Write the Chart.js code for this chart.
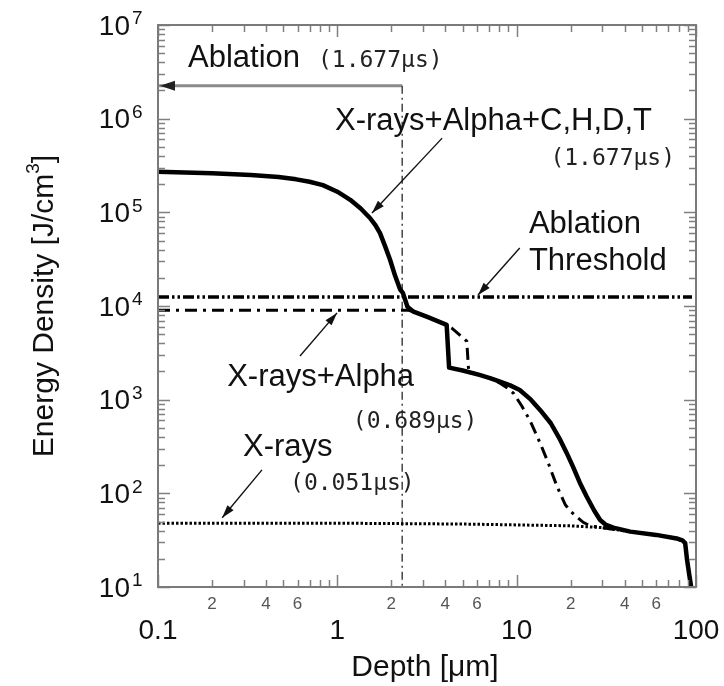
<!DOCTYPE html>
<html>
<head>
<meta charset="utf-8">
<script src="https://cdn.jsdelivr.net/npm/chart.js@4.4.1/dist/chart.umd.min.js"></script>
<style>
  html, body { margin: 0; padding: 0; background: #fff; }
  #wrap { width: 724px; height: 686px; }
</style>
</head>
<body>
<div id="wrap"><canvas id="depthChart" width="724" height="686"></canvas></div>
<script>
// Energy density vs depth
const totalDepth  = [0.1, 0.2, 0.33, 0.47, 0.59, 0.7, 0.83, 1.0, 1.18, 1.35, 1.52, 1.63, 1.73, 1.85, 1.97, 2.1, 2.24, 2.32, 2.46, 2.66, 3.2, 4.07, 4.2, 5.0, 6.2, 7.1, 8.07, 9.2, 10.4, 12.0, 13.5, 15.5, 17.5, 19.0, 20.6, 22.5, 24.6, 27.0, 29.2, 31.5, 34.6, 43, 60, 78, 84, 87, 89, 92, 94];
const totalEnergy = [2.72e5, 2.62e5, 2.5e5, 2.38e5, 2.25e5, 2.12e5, 1.95e5, 1.66e5, 1.36e5, 1.1e5, 8.7e4, 7.3e4, 6.0e4, 4.3e4, 3.1e4, 2.1e4, 1.5e4, 1.38e4, 9.8e3, 8.7e3, 7.6e3, 6.3e3, 2.2e3, 2.05e3, 1.84e3, 1.7e3, 1.56e3, 1.42e3, 1.27e3, 1.0e3, 777, 560, 372, 270, 193, 130, 92, 66, 52, 46, 43, 39, 36, 33, 31.5, 29.5, 20, 13, 10];

const alphaDepth  = [0.1, 2.5, 2.66, 3.2, 4.07, 4.35, 5.27, 5.4, 6.2, 7.1, 8.07, 8.9, 9.6, 10.7, 11.9, 13.5, 15, 16.8, 18.7, 20.2, 21.9, 23.5, 25.7, 30, 43, 60, 78, 84, 87, 89, 92, 94];
const alphaEnergy = [9.0e3, 9.0e3, 8.7e3, 7.6e3, 6.3e3, 5.8e3, 4.2e3, 2.0e3, 1.84e3, 1.7e3, 1.5e3, 1.33e3, 1.17e3, 850, 592, 346, 211, 118, 75, 63, 55, 49, 45, 43, 39, 36, 33, 31.5, 29.5, 20, 13, 10];

const xrayDepth  = [0.1, 1, 5, 10, 20, 30, 43, 60, 78, 87];
const xrayEnergy = [48, 48, 47, 46, 45, 43, 39, 36, 33, 29.5];

const thresholdDepth  = [0.1, 95];
const thresholdEnergy = [1.25e4, 1.25e4];

// ablation front at 1.677 us
const ablationDepth  = [2.3, 2.3];
const ablationEnergy = [2.25e6, 10];
const ablationArrowDepth = [2.3, 0.1];
const ablationArrowEnergy = [2.25e6, 2.25e6];

const xMajor = [0.1, 1, 10, 100];
const xMajorLabels = ['0.1', '1', '10', '100'];
const xMinorLabeled = [2, 4, 6];
const yPowers = [1, 2, 3, 4, 5, 6, 7];

// labels and arrows, placed in data units
const notes = [
  { text: 'Ablation', x: 0.147, y: 3.56e6, small: false },
  { text: '(1.677\u03bcs)', x: 0.78, y: 3.56e6, small: true },
  { text: 'X-rays+Alpha+C,H,D,T', x: 0.97, y: 7.57e5, small: false },
  { text: '(1.677\u03bcs)', x: 76.4, y: 3.2e5, small: true, right: true },
  { text: 'Ablation', x: 11.7, y: 6.0e4, small: false },
  { text: 'Threshold', x: 11.7, y: 2.43e4, small: false },
  { text: 'X-rays+Alpha', x: 0.243, y: 1.4e3, small: false },
  { text: '(0.689\u03bcs)', x: 1.22, y: 500, small: true },
  { text: 'X-rays', x: 0.298, y: 251, small: false },
  { text: '(0.051\u03bcs)', x: 0.545, y: 109, small: true }
];
const pointers = [
  { from: [3.84, 6.2e5], to: [1.56, 9.86e4] },
  { from: [10.4, 4.17e4], to: [6.09, 1.31e4] },
  { from: [0.619, 2.93e3], to: [0.996, 8.44e3] },
  { from: [0.38, 178], to: [0.228, 54.8] }
];

const SANS = "'Liberation Sans', Arial, sans-serif";

function toPoints(xs, ys) {
  return xs.map((v, i) => ({ x: v, y: ys[i] }));
}

function arrowHead(ctx, x1, y1, x2, y2, len, half) {
  const ang = Math.atan2(y2 - y1, x2 - x1);
  ctx.beginPath();
  ctx.moveTo(x2, y2);
  ctx.lineTo(x2 - len * Math.cos(ang) + half * Math.sin(ang), y2 - len * Math.sin(ang) - half * Math.cos(ang));
  ctx.lineTo(x2 - len * Math.cos(ang) - half * Math.sin(ang), y2 - len * Math.sin(ang) + half * Math.cos(ang));
  ctx.closePath();
  ctx.fill();
}

const decorations = {
  id: 'decorations',
  afterDatasetsDraw(chart) {
    const { ctx, chartArea: a, scales: { x, y } } = chart;
    ctx.save();

    // inward ticks on all four sides
    ctx.strokeStyle = '#808080';
    ctx.lineWidth = 1.5;
    ctx.beginPath();
    for (let d = -1; d <= 2; d++) {
      for (let m = 1; m <= 9; m++) {
        const v = m * Math.pow(10, d);
        if (v > 100.001) break;
        const px = Math.round(x.getPixelForValue(v)) + 0.5;
        const len = m === 1 ? 12 : 7;
        ctx.moveTo(px, a.bottom); ctx.lineTo(px, a.bottom - len);
        ctx.moveTo(px, a.top); ctx.lineTo(px, a.top + len);
      }
    }
    for (let d = 1; d <= 7; d++) {
      for (let m = 1; m <= 9; m++) {
        const v = m * Math.pow(10, d);
        if (v > 1.0001e7) break;
        const py = Math.round(y.getPixelForValue(v)) + 0.5;
        const len = m === 1 ? 12 : 7;
        ctx.moveTo(a.left, py); ctx.lineTo(a.left + len, py);
        ctx.moveTo(a.right, py); ctx.lineTo(a.right - len, py);
      }
    }
    ctx.stroke();

    // frame
    ctx.strokeStyle = '#7a7a7a';
    ctx.lineWidth = 2;
    ctx.strokeRect(a.left, a.top, a.right - a.left, a.bottom - a.top);

    // x tick labels
    ctx.fillStyle = '#111';
    ctx.textAlign = 'center';
    ctx.textBaseline = 'middle';
    ctx.font = '28px ' + SANS;
    xMajor.forEach((v, i) => {
      ctx.fillText(xMajorLabels[i], x.getPixelForValue(v), a.bottom + 44);
    });
    ctx.fillStyle = '#555';
    ctx.font = '17px ' + SANS;
    xMajor.slice(0, 3).forEach(base => {
      xMinorLabeled.forEach(m => {
        ctx.fillText(String(m), x.getPixelForValue(base * m), a.bottom + 17);
      });
    });

    // y tick labels 10^n
    ctx.fillStyle = '#111';
    yPowers.forEach(p => {
      const py = y.getPixelForValue(Math.pow(10, p));
      ctx.font = '28px ' + SANS;
      ctx.textAlign = 'right';
      ctx.fillText('10', a.left - 28, py + 2);
      ctx.font = '19px ' + SANS;
      ctx.textAlign = 'left';
      ctx.fillText(String(p), a.left - 26, py - 6);
    });

    // axis titles
    ctx.font = '30px ' + SANS;
    ctx.textAlign = 'center';
    ctx.fillText('Depth [\u03bcm]', (a.left + a.right) / 2 - 2, a.bottom + 81);

    ctx.save();
    ctx.translate(45, (a.top + a.bottom) / 2);
    ctx.rotate(-Math.PI / 2);
    const main = 'Energy Density [J/cm';
    ctx.font = '30px ' + SANS;
    const wMain = ctx.measureText(main).width;
    const wBr = ctx.measureText(']').width;
    ctx.font = '19px ' + SANS;
    const wSup = ctx.measureText('3').width;
    let sx = -(wMain + wSup + wBr) / 2;
    ctx.textAlign = 'left';
    ctx.font = '30px ' + SANS;
    ctx.fillText(main, sx, 0);
    ctx.font = '19px ' + SANS;
    ctx.fillText('3', sx + wMain, -11);
    ctx.font = '30px ' + SANS;
    ctx.fillText(']', sx + wMain + wSup, 0);
    ctx.restore();

    // annotation text
    ctx.textBaseline = 'alphabetic';
    notes.forEach(n => {
      ctx.font = n.small ? "23px 'DejaVu Sans Mono', monospace" : '31px ' + SANS;
      ctx.fillStyle = n.small ? '#222' : '#111';
      ctx.textAlign = n.right ? 'right' : 'left';
      ctx.fillText(n.text, x.getPixelForValue(n.x), y.getPixelForValue(n.y));
    });

    // pointer arrows
    ctx.strokeStyle = '#111';
    ctx.fillStyle = '#111';
    ctx.lineWidth = 1.4;
    pointers.forEach(p => {
      const x1 = x.getPixelForValue(p.from[0]), y1 = y.getPixelForValue(p.from[1]);
      const x2 = x.getPixelForValue(p.to[0]), y2 = y.getPixelForValue(p.to[1]);
      ctx.beginPath();
      ctx.moveTo(x1, y1);
      ctx.lineTo(x2, y2);
      ctx.stroke();
      arrowHead(ctx, x1, y1, x2, y2, 13, 4);
    });

    // head of the ablation arrow
    const hx = x.getPixelForValue(ablationArrowDepth[1]) + 2;
    const hy = y.getPixelForValue(ablationArrowEnergy[1]);
    ctx.fillStyle = '#222';
    arrowHead(ctx, hx + 20, hy, hx, hy, 15, 5);
    ctx.restore();
  }
};

const ctx = document.getElementById('depthChart').getContext('2d');

const depthChart = new Chart(ctx, {
  type: 'scatter',
  data: {
    datasets: [
      {
        label: 'X-rays+Alpha+C,H,D,T',
        data: toPoints(totalDepth, totalEnergy),
        borderColor: '#000',
        borderWidth: 4.5,
        borderJoinStyle: 'round',
        showLine: true,
        pointRadius: 0
      },
      {
        label: 'X-rays+Alpha',
        data: toPoints(alphaDepth, alphaEnergy),
        borderColor: '#000',
        borderWidth: 3,
        borderDash: [12, 6, 3, 6],
        showLine: true,
        pointRadius: 0
      },
      {
        label: 'X-rays',
        data: toPoints(xrayDepth, xrayEnergy),
        borderColor: '#000',
        borderWidth: 3,
        borderDash: [2.5, 2],
        showLine: true,
        pointRadius: 0
      },
      {
        label: 'Ablation Threshold',
        data: toPoints(thresholdDepth, thresholdEnergy),
        borderColor: '#000',
        borderWidth: 3.5,
        borderDash: [11, 3, 2.5, 3, 2.5, 3],
        showLine: true,
        pointRadius: 0
      },
      {
        label: 'Ablation depth',
        data: toPoints(ablationDepth, ablationEnergy),
        borderColor: '#444',
        borderWidth: 1.5,
        borderDash: [8, 4, 2, 4],
        showLine: true,
        pointRadius: 0
      },
      {
        label: 'Ablation arrow',
        data: toPoints(ablationArrowDepth, ablationArrowEnergy),
        borderColor: '#8a8a8a',
        borderWidth: 3,
        showLine: true,
        pointRadius: 0
      }
    ]
  },
  options: {
    responsive: false,
    animation: false,
    layout: { padding: { left: 158, right: 28, top: 25, bottom: 99 } },
    plugins: {
      legend: { display: false },
      tooltip: { enabled: false }
    },
    scales: {
      x: { type: 'logarithmic', min: 0.1, max: 100, display: false },
      y: { type: 'logarithmic', min: 10, max: 1e7, display: false }
    }
  },
  plugins: [decorations]
});
</script>
</body>
</html>
